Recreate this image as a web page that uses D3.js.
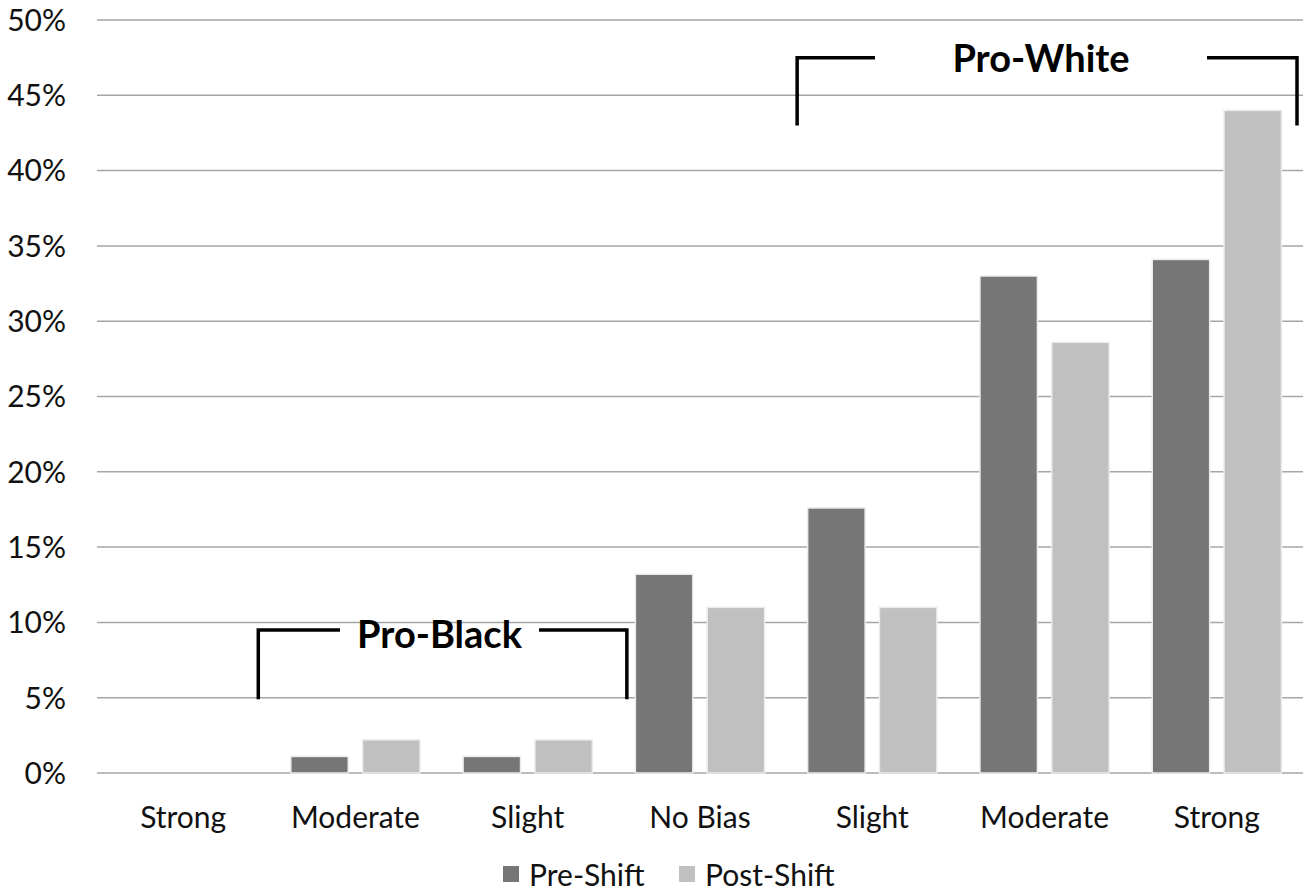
<!DOCTYPE html>
<html lang="en">
<head>
<meta charset="UTF-8">
<title>Bias Shift</title>
<script src="https://d3js.org/d3.v7.min.js"></script>
<style>
    body, html { margin: 0; background: #fff; }
    text { font-family: Lato, "Open Sans", sans-serif; fill: #111; }
    .grid line { stroke: #a6a6a6; stroke-width: 1.5px; }
    .bracket { fill: none; stroke: #000; stroke-width: 3.5px; }
</style>
</head>
<body>
<script>
    const categories = ["Strong", "Moderate", "Slight", "No Bias", "Slight", "Moderate", "Strong"];
    const series = ["Pre-Shift", "Post-Shift"];
    const preShift = [0, 1.1, 1.1, 13.2, 17.6, 33.0, 34.1];
    const postShift = [0, 2.2, 2.2, 11.0, 11.0, 28.6, 44.0];
    const yTicks = [0, 5, 10, 15, 20, 25, 30, 35, 40, 45, 50];
    const colors = ["#767676", "#c0c0c0"];

    const width = 1311, height = 892;
    const margin = {top: 20, right: 8, bottom: 119, left: 97};

    const svg = d3.select("body").append("svg")
        .attr("width", width)
        .attr("height", height);

    // index-based band scale since category names repeat
    const x0 = d3.scaleBand()
        .domain(d3.range(categories.length))
        .range([margin.left, width - margin.right])
        .paddingInner(0.25)
        .paddingOuter(0.125);

    const x1 = d3.scaleBand()
        .domain(series)
        .range([0, x0.bandwidth()])
        .paddingInner(0.2);

    const y = d3.scaleLinear()
        .domain([0, 50])
        .range([height - margin.bottom, margin.top]);

    const step = x0.step();
    const bandStart = i => x0(i) - step * x0.paddingInner() / 2;

    // gridlines
    svg.append("g")
        .attr("class", "grid")
        .selectAll("line")
        .data(yTicks)
        .join("line")
        .attr("x1", margin.left)
        .attr("x2", width - margin.right)
        .attr("y1", d => y(d))
        .attr("y2", d => y(d));

    // y tick labels
    svg.append("g")
        .selectAll("text")
        .data(yTicks)
        .join("text")
        .attr("x", 66)
        .attr("y", d => y(d))
        .attr("dy", "0.36em")
        .attr("text-anchor", "end")
        .style("font-size", "30px")
        .text(d => d + "%");

    // bars
    const rows = categories.map((c, i) => ({i, values: [preShift[i], postShift[i]]}));

    const groups = svg.append("g")
        .selectAll("g")
        .data(rows)
        .join("g")
        .attr("transform", d => `translate(${x0(d.i)},0)`);

    groups.selectAll("rect")
        .data(d => d.values.map((v, k) => ({key: series[k], value: v, k})))
        .join("rect")
        .filter(d => d.value > 0)
        .attr("x", d => x1(d.key))
        .attr("y", d => y(d.value))
        .attr("width", x1.bandwidth())
        .attr("height", d => y(0) - y(d.value))
        .attr("fill", d => colors[d.k])
        .attr("stroke", "#ececec")
        .attr("stroke-width", 1.5);

    // category labels
    svg.append("g")
        .selectAll("text")
        .data(categories)
        .join("text")
        .attr("x", (d, i) => x0(i) + x0.bandwidth() / 2)
        .attr("y", 828)
        .attr("text-anchor", "middle")
        .style("font-size", "30px")
        .text(d => d);

    // brackets
    function bracket(x1b, x2b, top, bottom, gapL, gapR, label, baseline) {
        const yt = y(top), yb = y(bottom);
        svg.append("path")
            .attr("class", "bracket")
            .attr("d", `M${x1b},${yb}V${yt}H${gapL}`);
        svg.append("path")
            .attr("class", "bracket")
            .attr("d", `M${gapR},${yt}H${x2b}V${yb}`);
        svg.append("text")
            .attr("x", (gapL + gapR) / 2)
            .attr("y", baseline)
            .attr("text-anchor", "middle")
            .style("font-size", "38px")
            .style("font-weight", "bold")
            .style("fill", "#000")
            .text(label);
    }

    bracket(bandStart(1) - 11, bandStart(3) + 13, 9.5, 4.9, 340, 539, "Pro-Black", 648);
    bracket(bandStart(4) + 11, width - margin.right - 6, 47.5, 43, 875, 1207, "Pro-White", 72);

    // legend
    const legend = svg.append("g")
        .attr("transform", "translate(503, 866)");
    const legendX = [0, 176];
    series.forEach((s, k) => {
        const row = legend.append("g").attr("transform", `translate(${legendX[k]},0)`);
        row.append("rect")
            .attr("width", 16)
            .attr("height", 16)
            .attr("fill", colors[k]);
        row.append("text")
            .attr("x", 26)
            .attr("y", 20)
            .style("font-size", "30px")
            .text(s);
    });
</script>
</body>
</html>
